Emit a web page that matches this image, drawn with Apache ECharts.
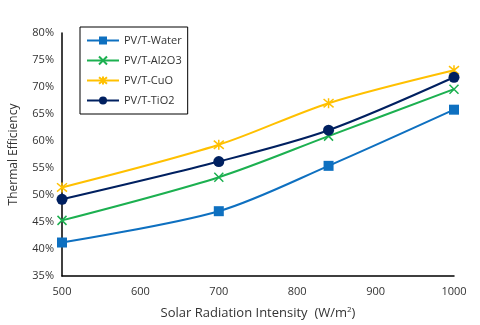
<!DOCTYPE html>
<html>
<head>
<meta charset="utf-8">
<script src="https://cdn.jsdelivr.net/npm/echarts@6/dist/echarts.min.js"></script>
<style>
	html, body { margin: 0; padding: 0; background: #fff; }
	#chart { width: 480px; height: 325px; }
</style>
</head>
<body>
<div id="chart"></div>
<script>
	// solar radiation (W/m2)
	var radiation = [500, 700, 840, 1000];
	var waterEff = [41.2, 47.0, 55.4, 65.8];
	var al2o3Eff = [45.3, 53.3, 60.9, 69.6];
	var cuoEff = [51.4, 59.3, 67.0, 73.1];
	var tio2Eff = [49.2, 56.2, 62.0, 71.8];
	var seriesNames = ['PV/T-Water', 'PV/T-Al2O3', 'PV/T-CuO', 'PV/T-TiO2'];

	var crossPath = 'path://M0,0L10,10M10,0L0,10';
	var starPath = 'path://M0,0L10,10M10,0L0,10M5,-1L5,11';

	function makeSeries(name, values, color, symbol, size, stroke) {
		return {
			name: name,
			type: 'line',
			smooth: 0.3,
			data: radiation.map(function (x, i) { return [x, values[i]]; }),
			symbol: symbol,
			symbolSize: size,
			lineStyle: { color: color, width: 2 },
			itemStyle: stroke
				? { color: 'rgba(0,0,0,0)', borderColor: color, borderWidth: 1.5 }
				: { color: color, borderColor: color, borderWidth: 0 }
		}
	}

	var chart = echarts.init(document.getElementById('chart'));
	chart.setOption({
		animation: false,
		textStyle: { fontFamily: 'Open Sans' },
		grid: { left: 62, right: 26, top: 33, bottom: 49 },
		legend: {
			orient: 'vertical',
			left: 80,
			top: 27,
			width: 108,
			padding: [8, 6, 8, 6],
			itemGap: 9,
			itemWidth: 32,
			itemHeight: 10,
			borderColor: '#000',
			borderWidth: 1,
			textStyle: { fontSize: 11, color: '#333', fontFamily: 'Open Sans' },
			data: seriesNames
		},
		xAxis: {
			type: 'value',
			min: 500,
			max: 1000,
			interval: 100,
			name: 'Solar Radiation Intensity  (W/m{sup|2})',
			nameLocation: 'middle',
			nameGap: 30,
			nameTextStyle: {
				fontSize: 13, color: '#333',
				rich: { sup: { fontSize: 8, verticalAlign: 'top', padding: [0, 0, 6, 0], color: '#333' } }
			},
			axisLine: { lineStyle: { color: '#000', width: 1.5 } },
			axisTick: { show: false },
			splitLine: { show: false },
			axisLabel: { fontSize: 11, color: '#333', margin: 10, formatter: function (v) { return String(v); } }
		},
		yAxis: {
			type: 'value',
			min: 35,
			max: 80,
			interval: 5,
			name: 'Thermal Efficiency',
			nameLocation: 'middle',
			nameGap: 42,
			nameTextStyle: { fontSize: 12, color: '#333' },
			axisLine: { show: true, lineStyle: { color: '#000', width: 1.5 } },
			axisTick: { show: false },
			splitLine: { show: false },
			axisLabel: { fontSize: 11, color: '#333', formatter: '{value}%' }
		},
		series: [
			makeSeries(seriesNames[0], waterEff, '#0e70c0', 'rect', 10, false),
			makeSeries(seriesNames[1], al2o3Eff, '#1cb050', crossPath, 9, true),
			makeSeries(seriesNames[2], cuoEff, '#ffc000', starPath, 10, true),
			makeSeries(seriesNames[3], tio2Eff, '#002060', 'circle', 11, false)
		]
	});
</script>
</body>
</html>
